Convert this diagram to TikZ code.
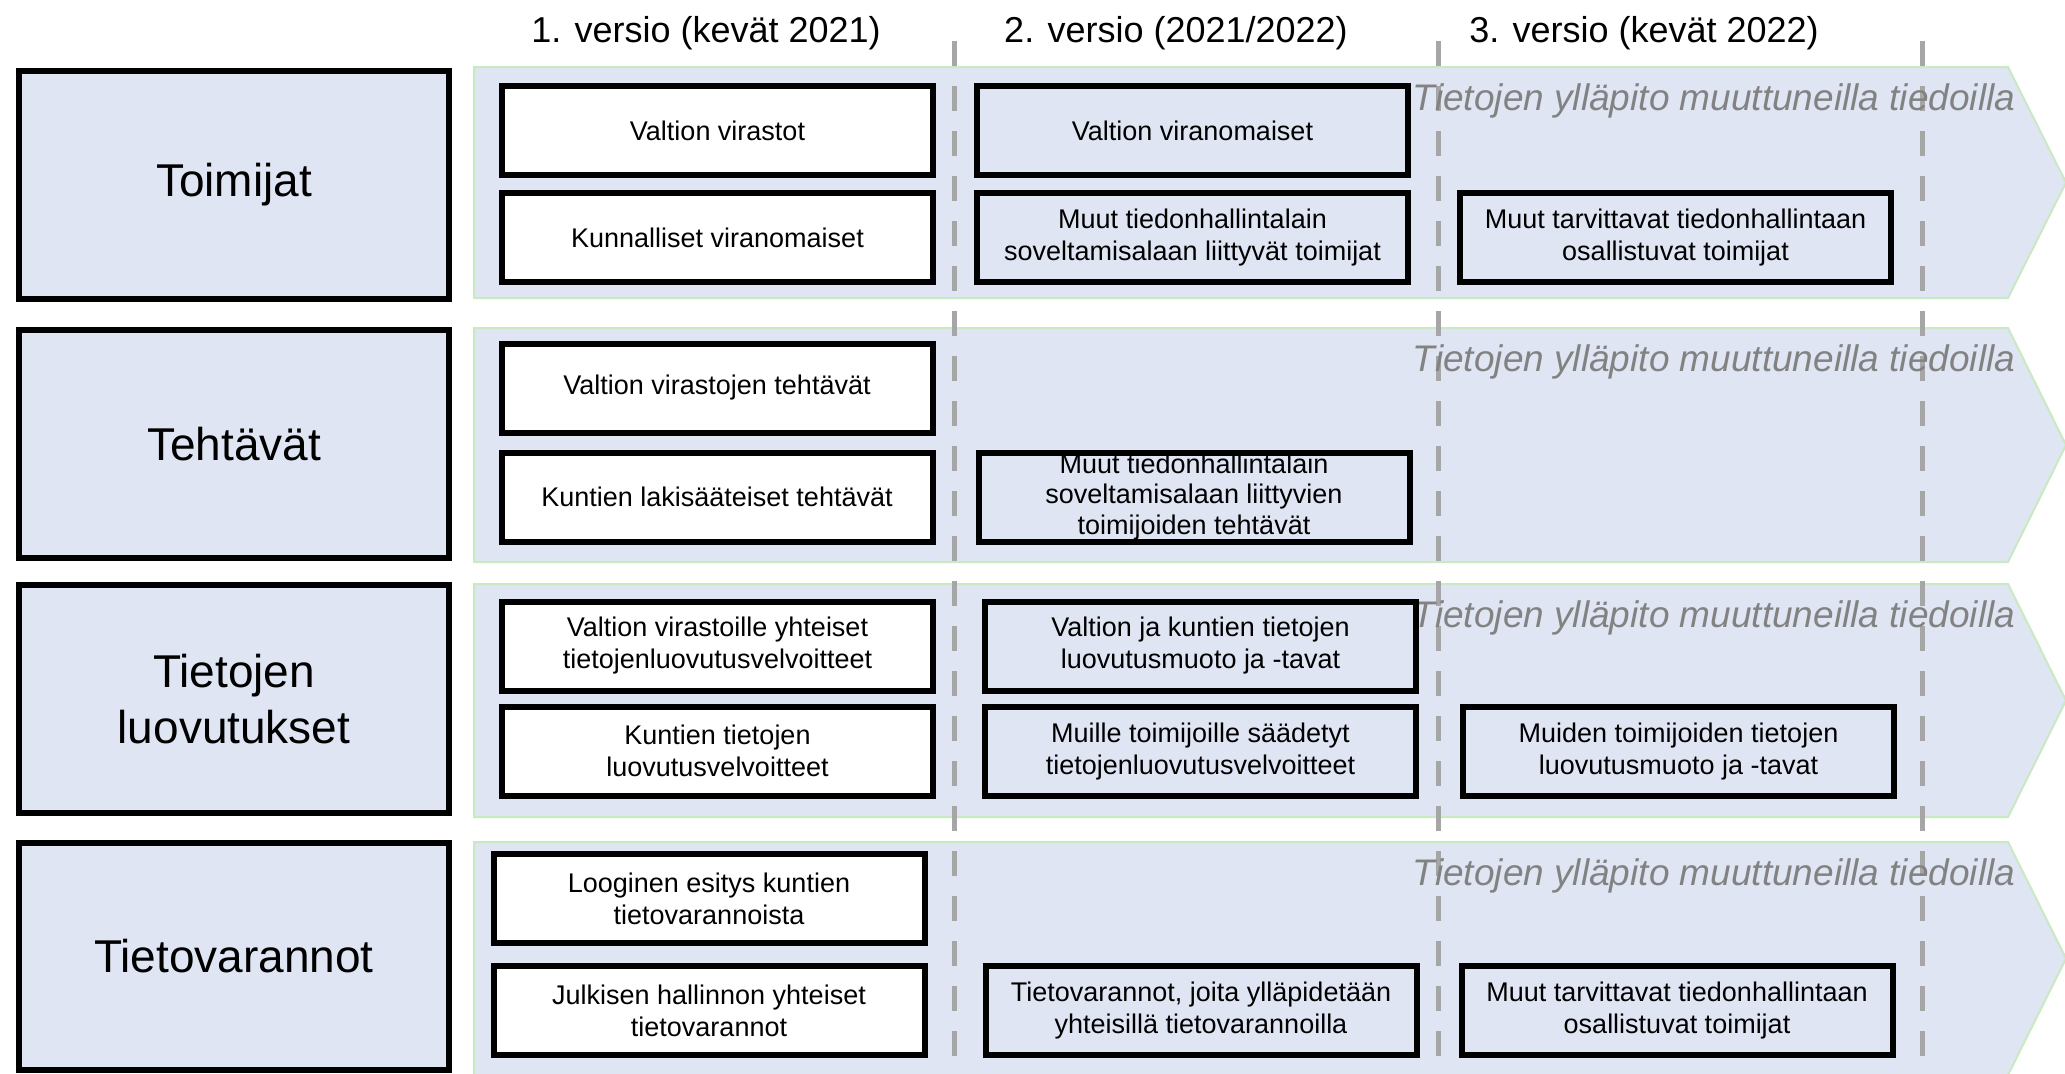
\documentclass[tikz,border=0pt]{standalone}
\usepackage{fontspec}
\setmainfont{Liberation Sans}
\usetikzlibrary{positioning}

\definecolor{bandblue}{RGB}{223,229,243}
\definecolor{bandgreen}{RGB}{200,233,193}
\definecolor{guidegray}{RGB}{166,166,166}
\definecolor{notegray}{RGB}{130,130,130}

\tikzset{
  band/.style={fill=bandblue, draw=bandgreen, line width=1pt},
  areabox/.style={draw, line width=3pt, fill=bandblue, minimum width=215pt, minimum height=114pt, align=center, font=\fontsize{23}{28}\selectfont},
  itembox/.style={draw, line width=3pt, minimum width=215.5pt, minimum height=44.5pt, inner sep=0pt, align=center, font=\fontsize{13.5}{16}\selectfont},
  firstbox/.style={itembox, fill=white},
  versionhead/.style={anchor=base, font=\fontsize{18}{22}\selectfont},
  upkeep/.style={anchor=base, text=notegray, font=\fontsize{18.5}{22}\selectfont\itshape},
  guide/.style={draw=guidegray, line width=2.5pt, dash pattern=on 12.5pt off 10pt}
}

\begin{document}
\begin{tikzpicture}[x=0.5pt, y=-0.5pt]
    \useasboundingbox (0,0) rectangle (2065,1073);

    \path[band] (474,67) -- (2008,67) -- (2066,182.5) -- (2008,298) -- (474,298) -- cycle;
    \path[band] (474,328) -- (2008,328) -- (2066,445) -- (2008,562) -- (474,562) -- cycle;
    \path[band] (474,584) -- (2008,584) -- (2066,700.5) -- (2008,817) -- (474,817) -- cycle;
    \path[band] (474,842) -- (2008,842) -- (2066,958.5) -- (2008,1075) -- (474,1075) -- cycle;

    \draw[guide] (954,41) -- (954,1073);
    \draw[guide] (1438,41) -- (1438,1073);
    \draw[guide] (1922,41) -- (1922,1073);

    \node (v1) [versionhead] at (706,42) {1. versio (kevät 2021)};
    \node (v2) [versionhead] at (1176,42) {2. versio (2021/2022)};
    \node (v3) [versionhead] at (1644,42) {3. versio (kevät 2022)};

    \node (toimijat) [areabox] at (234,185) {Toimijat};
    \node (tehtavat) [areabox] at (234,444) {Tehtävät};
    \node (luovutukset) [areabox] at (234,699) {Tietojen\\luovutukset};
    \node (varannot) [areabox, minimum height=113.5pt] at (234,956.5) {Tietovarannot};

    \node (n1) [upkeep] at (1714,110) {Tietojen ylläpito muuttuneilla tiedoilla};
    \node (n2) [upkeep] at (1714,371) {Tietojen ylläpito muuttuneilla tiedoilla};
    \node (n3) [upkeep] at (1714,627) {Tietojen ylläpito muuttuneilla tiedoilla};
    \node (n4) [upkeep] at (1714,885) {Tietojen ylläpito muuttuneilla tiedoilla};

    \node (t11) [firstbox] at (717.5,130.5) {Valtion virastot};
    \node (t12) [firstbox, below=6pt of t11] {Kunnalliset viranomaiset};
    \node (t21) [itembox] at (1192.5,130.5) {Valtion viranomaiset};
    \node (t22) [itembox, below=6pt of t21] {Muut tiedonhallintalain\\soveltamisalaan liittyvät toimijat};
    \node (t32) [itembox, right=23pt of t22] {Muut tarvittavat tiedonhallintaan\\osallistuvat toimijat};

    \node (h11) [firstbox] at (717,388) {Valtion virastojen tehtävät};
    \node (h12) [firstbox, below=7pt of h11] {Kuntien lakisääteiset tehtävät};
    \node (h22) [itembox, right=20pt of h12, font=\fontsize{13.5}{15.25}\selectfont] {Muut tiedonhallintalain\\soveltamisalaan liittyvien\\toimijoiden tehtävät};

    \node (l11) [firstbox] at (717.5,646) {Valtion virastoille yhteiset\\tietojenluovutusvelvoitteet};
    \node (l12) [firstbox, below=5pt of l11] {Kuntien tietojen\\luovutusvelvoitteet};
    \node (l21) [itembox, right=23pt of l11] {Valtion ja kuntien tietojen\\luovutusmuoto ja -tavat};
    \node (l22) [itembox, right=23pt of l12] {Muille toimijoille säädetyt\\tietojenluovutusvelvoitteet};
    \node (l32) [itembox, right=20.5pt of l22] {Muiden toimijoiden tietojen\\luovutusmuoto ja -tavat};

    \node (r11) [firstbox] at (709,898.5) {Looginen esitys kuntien\\tietovarannoista};
    \node (r12) [firstbox, below=8.5pt of r11] {Julkisen hallinnon yhteiset\\tietovarannot};
    \node (r22) [itembox, right=27.5pt of r12] {Tietovarannot, joita ylläpidetään\\yhteisillä tietovarannoilla};
    \node (r32) [itembox, right=19.5pt of r22] {Muut tarvittavat tiedonhallintaan\\osallistuvat toimijat};
\end{tikzpicture}
\end{document}
